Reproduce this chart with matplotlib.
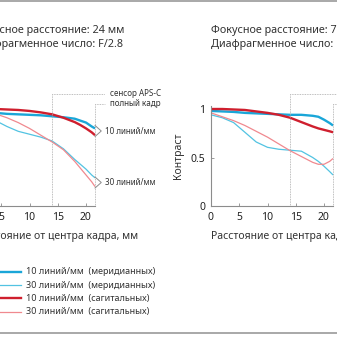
import matplotlib
matplotlib.use("Agg")
import matplotlib.pyplot as plt
from matplotlib.lines import Line2D

plt.rcParams['font.family'] = ['Noto Sans', 'DejaVu Sans']

# === DATA ===
x_mm = [0, 2, 4, 6, 8, 10, 12, 14, 16, 18, 19, 20, 21, 21.6]

# 24 mm, F/2.8
w_mer10 = [0.97, 0.965, 0.96, 0.95, 0.945, 0.94, 0.935, 0.925, 0.915, 0.90, 0.88, 0.86, 0.82, 0.80]
w_mer30 = [0.93, 0.91, 0.88, 0.82, 0.77, 0.74, 0.71, 0.67, 0.59, 0.48, 0.43, 0.38, 0.32, 0.29]
w_sag10 = [1.0, 1.0, 1.0, 0.995, 0.99, 0.98, 0.965, 0.945, 0.91, 0.865, 0.835, 0.80, 0.76, 0.73]
w_sag30 = [0.99, 0.98, 0.95, 0.91, 0.86, 0.80, 0.73, 0.66, 0.58, 0.46, 0.39, 0.32, 0.25, 0.20]

# 70 mm
t_mer10 = [0.98, 0.975, 0.97, 0.96, 0.955, 0.95, 0.945, 0.94, 0.94, 0.93, 0.92, 0.89, 0.855, 0.83]
t_mer30 = [0.94, 0.91, 0.86, 0.76, 0.66, 0.605, 0.585, 0.575, 0.565, 0.50, 0.46, 0.41, 0.355, 0.32]
t_sag10 = [1.0, 1.0, 0.995, 0.99, 0.975, 0.96, 0.94, 0.91, 0.865, 0.82, 0.80, 0.785, 0.77, 0.76]
t_sag30 = [0.96, 0.92, 0.88, 0.83, 0.77, 0.71, 0.64, 0.57, 0.51, 0.45, 0.43, 0.43, 0.46, 0.49]

titles_left = ['Фокусное расстояние: 24 мм', 'Диафрагменное число: F/2.8']
titles_right = ['Фокусное расстояние: 70 мм', 'Диафрагменное число: F/2.8']
xticks = [0, 5, 10, 15, 20]
yticks = [0, 0.5, 1]
ytick_labels = ['0', '0.5', '1']
aps_c = 14
full_frame = 21.6

legend_labels = ['10 линий/мм  (меридианных)', '30 линий/мм  (меридианных)',
                 '10 линий/мм  (сагитальных)', '30 линий/мм  (сагитальных)']

# === STYLE ===
C_M10 = '#1aa6d8'
C_M30 = '#52c3e2'
C_S10 = '#cf1f2e'
C_S30 = '#f0898f'
styles = [(C_M10, 1.7), (C_M30, 0.9), (C_S10, 1.7), (C_S30, 0.9)]
TXT = '#333333'
GRID = '#a8a8a8'
W = H = 337

fig = plt.figure(figsize=(W / 100, H / 100), dpi=100)
fig.patch.set_facecolor('white')

PX = 5.65          # pixels per mm
PY = 97            # pixels per contrast unit
YTOP = 1.03


def make_axes(x0_px):
    ax = fig.add_axes([x0_px / W, (H - 206) / H, full_frame * PX / W, YTOP * PY / H])
    ax.set_xlim(0, full_frame)
    ax.set_ylim(0, YTOP)
    for s in ['top', 'right']:
        ax.spines[s].set_visible(False)
    for s in ['left', 'bottom']:
        ax.spines[s].set_color('#8c8c8c')
        ax.spines[s].set_linewidth(0.8)
    ax.set_xticks(xticks)
    ax.set_yticks(yticks)
    ax.set_yticklabels(ytick_labels)
    ax.tick_params(direction='in', length=2.5, width=0.6, color='#8c8c8c',
                   labelsize=7.5, labelcolor='#222222', pad=4)
    ax.set_facecolor('none')
    return ax


def draw_panel(ax, series, titles, labels=True):
    for (c, lw), ys in zip(styles, series):
        ax.plot(x_mm, ys, color=c, lw=lw, solid_capstyle='butt', clip_on=False)

    # sensor size markers
    y_aps = (206 - 94) / PY
    y_ff = (206 - 104) / PY
    x_end = 23.4
    ax.plot([aps_c, aps_c, x_end], [0, y_aps, y_aps], color=GRID, lw=0.6,
            ls=(0, (1, 1)), clip_on=False)
    ax.plot([full_frame, full_frame, x_end], [0, y_ff, y_ff], color=GRID, lw=0.6,
            ls=(0, (1, 1)), clip_on=False)
    ax.text(24.2, y_aps, 'сенсор APS-C', fontsize=5.8, color=TXT, va='center', clip_on=False)
    ax.text(24.2, y_ff, 'полный кадр', fontsize=5.8, color=TXT, va='center', clip_on=False)

    # brackets for the line-pair labels
    if labels:
        for yv, lab in [((206 - 131) / PY, '10 линий/мм'), ((206 - 182.5) / PY, '30 линий/мм')]:
            d = 5.5 / PY
            ax.plot([full_frame, 22.7, full_frame], [yv + d, yv, yv - d], color='#8c8c8c',
                    lw=0.7, clip_on=False)
            ax.text(23.3, yv, lab, fontsize=5.8, color=TXT, va='center', clip_on=False)

    for i, t in enumerate(titles):
        ax.annotate(t, xy=(0, H - 30 - 14 * i), xycoords=('data', 'figure pixels'),
                    fontsize=7.8, color=TXT, va='center', ha='left', annotation_clip=False)
    ax.annotate('Расстояние от центра кадра, мм', xy=(0, H - 236),
                xycoords=('data', 'figure pixels'), fontsize=7.5, color=TXT,
                va='center', ha='left', annotation_clip=False)
    ax.set_ylabel('Контраст', fontsize=7.5, color=TXT, labelpad=5)


ax1 = make_axes(-27)
ax2 = make_axes(211)
draw_panel(ax1, [w_mer10, w_mer30, w_sag10, w_sag30], titles_left)
draw_panel(ax2, [t_mer10, t_mer30, t_sag10, t_sag30], titles_right, labels=False)

# === LEGEND ===
for i, (lab, (c, lw)) in enumerate(zip(legend_labels, styles)):
    yp = H - (272 + 13.2 * i)
    fig.add_artist(Line2D([-5 / W, 21 / W], [yp / H, yp / H], color=c, lw=lw))
    fig.text(26 / W, yp / H, lab, fontsize=6.5, color=TXT, va='center', ha='left')

# frame lines
for yp in [H - 1, H - 333]:
    fig.add_artist(Line2D([0, 1], [yp / H, yp / H], color='#9a9a9a', lw=1.2))

fig.savefig('out.png', dpi=100)
